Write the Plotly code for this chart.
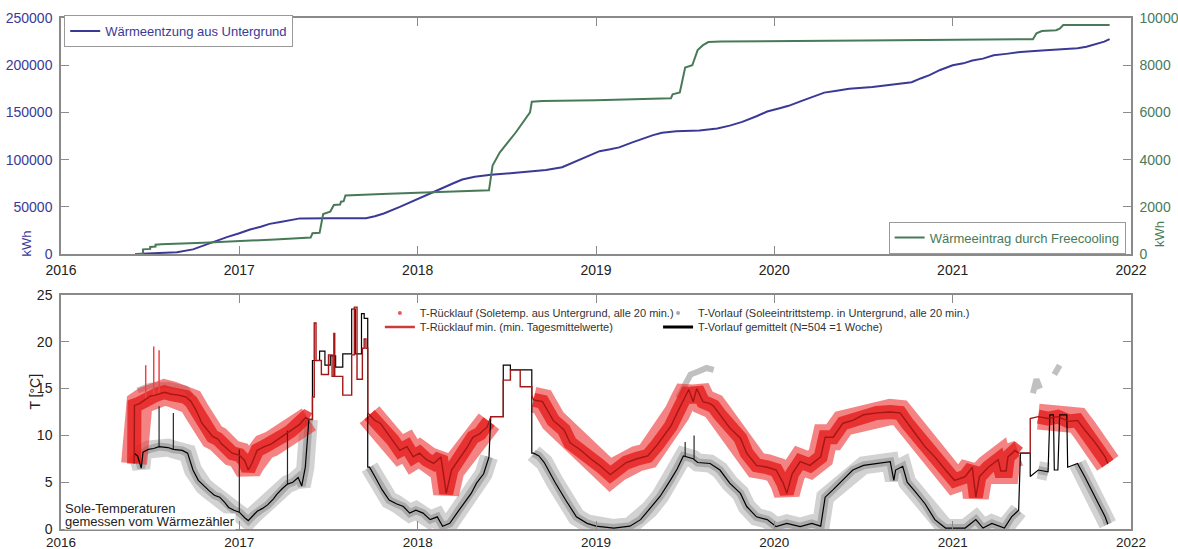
import plotly.graph_objects as go

# ---------------- top panel data (cumulative energy) ----------------
blue_years = [2016.42, 2016.55, 2016.65, 2016.74, 2016.85, 2016.93, 2017.00, 2017.06, 2017.12, 2017.17,
              2017.23, 2017.28, 2017.34, 2017.50, 2017.71, 2017.76, 2017.81, 2017.90, 2017.95, 2018.00,
              2018.07, 2018.14, 2018.20, 2018.25, 2018.32, 2018.41, 2018.55, 2018.65, 2018.72, 2018.81,
              2018.91, 2018.97, 2019.02, 2019.08, 2019.13, 2019.20, 2019.26, 2019.32, 2019.37, 2019.45,
              2019.58, 2019.68, 2019.75, 2019.82, 2019.90, 2019.96, 2020.03, 2020.08, 2020.15, 2020.22,
              2020.28, 2020.35, 2020.42, 2020.55, 2020.72, 2020.77, 2020.82, 2020.87, 2020.93, 2021.00,
              2021.06, 2021.11, 2021.17, 2021.23, 2021.30, 2021.38, 2021.50, 2021.62, 2021.70, 2021.75,
              2021.80, 2021.85, 2021.88]
blue_kwh = [0, 700, 2000, 5000, 13000, 18000, 22000, 26000, 29000, 32000,
            34000, 36000, 37800, 38000, 38000, 40000, 43000, 50000, 54000, 58000,
            64000, 70000, 75000, 79000, 82000, 84000, 86000, 87500, 89000, 92000,
            100000, 105000, 109000, 111000, 113000, 118000, 122000, 126000, 128500, 130000,
            131000, 133000, 136000, 140000, 146000, 151000, 154500, 157000, 162000, 167000,
            171000, 173000, 175000, 177000, 180500, 182000, 186000, 189500, 195000, 200000,
            202000, 205000, 207000, 210500, 212000, 214000, 215500, 216700, 218000, 219500,
            222000, 225000, 227700]

green_years = [2016.415, 2016.46, 2016.46, 2016.50, 2016.50, 2016.53, 2016.53, 2016.56, 2016.80, 2017.00,
               2017.20, 2017.40, 2017.41, 2017.45, 2017.47, 2017.51, 2017.53, 2017.565, 2017.57, 2017.585,
               2017.595, 2017.80, 2018.10, 2018.40, 2018.42, 2018.46, 2018.55, 2018.63, 2018.64, 2018.70,
               2019.00, 2019.42, 2019.43, 2019.47, 2019.50, 2019.54, 2019.57, 2019.60, 2019.63, 2019.70,
               2020.50, 2021.00, 2021.45, 2021.47, 2021.50, 2021.58, 2021.60, 2021.62, 2021.88]
green_kwh = [0, 0, 200, 220, 300, 320, 400, 420, 480, 540,
             620, 700, 880, 900, 1700, 1800, 2080, 2100, 2220, 2240,
             2480, 2550, 2620, 2700, 3750, 4300, 5150, 6000, 6450, 6480,
             6520, 6600, 6770, 6850, 7900, 8000, 8640, 8850, 8980, 9000,
             9050, 9080, 9100, 9350, 9450, 9480, 9550, 9700, 9700]

# ---------------- bottom panel data (brine temperatures) ----------------
rl_years = [2016.410, 2016.412, 2016.44, 2016.47, 2016.50, 2016.53, 2016.56, 2016.58, 2016.62, 2016.66,
            2016.70, 2016.73, 2016.76, 2016.79, 2016.82, 2016.85, 2016.88, 2016.90, 2016.93, 2016.96,
            2017.00, 2017.03, 2017.05, 2017.07, 2017.10, 2017.14, 2017.18, 2017.22, 2017.26, 2017.29,
            2017.31, 2017.34, 2017.37, 2017.39,
            2017.41, 2017.41, 2017.42, 2017.42, 2017.43, 2017.43, 2017.46, 2017.46, 2017.50, 2017.50,
            2017.52, 2017.52, 2017.53, 2017.53, 2017.535, 2017.535, 2017.58, 2017.58, 2017.63, 2017.63,
            2017.645, 2017.645, 2017.66, 2017.66, 2017.69, 2017.69, 2017.70, 2017.70, 2017.71, 2017.71,
            2017.72, 2017.72,
            2017.73, 2017.76, 2017.79, 2017.83, 2017.86, 2017.90, 2017.94, 2017.975, 2018.01, 2018.05,
            2018.09, 2018.13, 2018.15, 2018.16, 2018.19, 2018.24, 2018.28, 2018.31, 2018.35, 2018.39,
            2018.40,
            2018.41, 2018.48, 2018.48, 2018.52, 2018.52, 2018.575, 2018.575, 2018.64, 2018.64,
            2018.65, 2018.70, 2018.76, 2018.82, 2018.855, 2018.91, 2018.97, 2019.02, 2019.08, 2019.12,
            2019.17, 2019.23, 2019.29, 2019.34, 2019.38, 2019.42, 2019.455, 2019.49, 2019.52, 2019.545,
            2019.565, 2019.60, 2019.64, 2019.66, 2019.695, 2019.75, 2019.81, 2019.845, 2019.90, 2019.96,
            2020.01, 2020.05, 2020.07, 2020.10, 2020.145, 2020.20, 2020.26, 2020.285, 2020.33, 2020.385,
            2020.44, 2020.50, 2020.575, 2020.65, 2020.705, 2020.745, 2020.79, 2020.845, 2020.90, 2020.96,
            2021.01, 2021.07, 2021.11, 2021.13, 2021.15, 2021.20, 2021.255, 2021.27, 2021.30, 2021.31,
            2021.35, 2021.37,
            2021.38, 2021.435, 2021.435,
            2021.48, 2021.535, 2021.59, 2021.65, 2021.70, 2021.74, 2021.80, 2021.855, 2021.87]
rl_vals = [7.0, 13.2, 13.4, 13.8, 14.2, 14.3, 14.5, 14.6, 14.4, 14.3,
           14.1, 13.6, 12.6, 11.3, 10.6, 9.9, 9.6, 9.1, 8.6, 8.1,
           7.9, 7.3, 6.3, 7.0, 8.4, 8.8, 9.1, 9.6, 10.1, 10.5,
           10.8, 11.2, 11.9, 11.7,
           11.7, 14.1, 14.1, 22.0, 22.0, 18.0, 18.0, 16.5, 16.5, 18.6,
           18.6, 16.3, 16.3, 20.9, 20.9, 16.3, 16.3, 14.3, 14.3, 18.6,
           18.6, 23.7, 23.7, 16.0, 16.0, 19.3, 19.3, 20.3, 20.3, 19.3,
           19.3, 12.4,
           12.2, 11.6, 11.3, 10.2, 9.5, 8.4, 8.8, 7.7, 8.1, 7.4,
           7.0, 7.7, 5.2, 3.8, 6.3, 7.7, 8.8, 9.8, 10.2, 10.9,
           11.5,
           12.0, 12.0, 15.9, 15.9, 17.0, 17.0, 15.2, 15.2, 14.3,
           13.8, 13.6, 11.6, 10.6, 9.2, 8.5, 7.5, 6.8, 5.8, 6.4,
           7.1, 7.5, 7.8, 8.9, 9.9, 11.0, 12.4, 13.8, 14.9, 13.6,
           15.0, 13.6, 13.4, 13.1, 12.2, 10.8, 9.7, 8.1, 6.8, 6.6,
           6.3, 4.9, 3.8, 5.9, 7.2, 6.8, 7.7, 9.8, 9.8, 11.3,
           11.6, 12.2, 12.4, 12.5, 12.4, 11.3, 10.2, 8.8, 7.7, 6.3,
           5.2, 5.6, 6.6, 3.4, 5.6, 6.6, 7.4, 6.2, 6.2, 7.7,
           8.4, 8.1,
           8.1, 8.1, 11.8,
           12.0, 11.8, 12.0, 11.5, 11.6, 10.6, 9.2, 7.7, 7.0]

vl_years = [2016.41, 2016.43, 2016.45, 2016.46, 2016.49, 2016.52, 2016.55, 2016.60, 2016.63, 2016.68,
            2016.71, 2016.74, 2016.77, 2016.80, 2016.83, 2016.86, 2016.89, 2016.92, 2016.94, 2016.97,
            2017.00, 2017.03, 2017.05, 2017.08, 2017.10, 2017.13, 2017.16, 2017.19, 2017.21, 2017.24,
            2017.27, 2017.30, 2017.33, 2017.35, 2017.37, 2017.39,
            2017.41, 2017.41, 2017.45, 2017.45, 2017.48, 2017.48, 2017.51, 2017.51, 2017.54, 2017.54,
            2017.58, 2017.58, 2017.63, 2017.63, 2017.65, 2017.65, 2017.685, 2017.685, 2017.70, 2017.70,
            2017.72, 2017.72,
            2017.73, 2017.76, 2017.80, 2017.84, 2017.88, 2017.92, 2017.955, 2017.99, 2018.03, 2018.07,
            2018.11, 2018.14, 2018.18, 2018.22, 2018.26, 2018.30, 2018.33, 2018.37, 2018.40,
            2018.41, 2018.48, 2018.48, 2018.52, 2018.52, 2018.64, 2018.64,
            2018.65, 2018.68, 2018.71, 2018.77, 2018.83, 2018.89, 2018.95, 2019.00, 2019.10, 2019.19,
            2019.25, 2019.30, 2019.36, 2019.42, 2019.455, 2019.49, 2019.545, 2019.57, 2019.64, 2019.695,
            2019.75, 2019.81, 2019.845, 2019.90, 2019.96, 2020.01, 2020.07, 2020.145, 2020.21, 2020.26,
            2020.285, 2020.33, 2020.385, 2020.44, 2020.50, 2020.575, 2020.65, 2020.67, 2020.68, 2020.72,
            2020.745, 2020.79, 2020.845, 2020.90, 2020.96, 2021.07, 2021.13, 2021.17, 2021.22, 2021.29,
            2021.33, 2021.37,
            2021.38, 2021.435, 2021.435,
            2021.48, 2021.535, 2021.545, 2021.565, 2021.57, 2021.59, 2021.60, 2021.64, 2021.645, 2021.70,
            2021.74, 2021.80, 2021.855, 2021.87]
vl_vals = [8.1, 7.8, 6.5, 8.2, 8.5, 8.6, 8.8, 8.7, 8.5, 8.4,
           8.1, 6.3, 5.2, 4.6, 4.1, 3.6, 3.4, 2.8, 2.3, 2.0,
           1.8, 1.2, 0.9, 1.5, 1.9, 2.2, 2.6, 3.2, 3.7, 4.3,
           4.8, 5.0, 5.5, 4.6, 6.6, 11.7,
           11.7, 18.0, 18.0, 19.0, 19.0, 17.5, 17.5, 18.5, 18.5, 17.3,
           17.3, 18.7, 18.7, 23.5, 23.5, 18.7, 18.7, 23.0, 23.0, 22.5,
           22.5, 6.6,
           6.6, 5.6, 4.2, 3.1, 2.7, 2.4, 1.7, 2.0, 1.7, 1.0,
           1.3, 0.3, 0.6, 1.7, 2.7, 3.8, 4.9, 5.9, 7.7,
           12.0, 12.0, 17.5, 17.5, 17.0, 17.0, 8.1,
           8.1, 7.8, 7.1, 5.0, 3.1, 1.3, 0.6, 0.3, 0.1, 0.3,
           1.0, 2.1, 3.5, 5.3, 6.4, 7.8, 7.5, 7.1, 7.0, 6.3,
           4.9, 3.8, 2.4, 1.3, 1.0, 0.25, 0.6, 0.25, 0.6, 0.3,
           3.4, 4.2, 5.2, 6.3, 6.8, 7.0, 7.2, 5.2, 6.3, 6.7,
           5.0, 4.0, 2.7, 1.0, 0.1, 0.1, 1.0, 0.1, 0.6, 0.1,
           1.3, 2.0,
           8.1, 8.1, 5.6,
           6.3, 6.1, 12.2, 12.2, 6.3, 6.3, 12.2, 12.2, 6.6, 7.0,
           5.6, 3.4, 1.3, 0.5]

# upper clusters of 20-min Vorlauf points lying above the Rücklauf cloud (None separates clusters)
vl_hi_years = [2016.43, 2016.50, 2016.60, 2016.70, 2016.73, None,
               2019.46, 2019.50, 2019.53, 2019.57, 2019.62, 2019.66, None,
               2021.45, 2021.47, 2021.49, None,
               2021.57, 2021.60]
vl_hi_vals = [14.8, 15.3, 15.4, 15.0, 14.2, None,
              14.0, 15.5, 16.5, 16.8, 17.2, 17.0, None,
              14.5, 16.0, 15.0, None,
              16.5, 17.5]

rl_spike_years = [2016.475, 2016.52, 2016.55]
rl_spike_lo = [13.8, 14.2, 14.5]
rl_spike_hi = [17.5, 19.5, 19.1]
vl_spike_years = [2016.55, 2016.63, 2017.00, 2017.27, 2019.50, 2019.55]
vl_spike_lo = [8.8, 8.5, 1.8, 4.8, 7.8, 7.5]
vl_spike_hi = [13.1, 12.4, 8.5, 10.5, 9.3, 10.0]

# periods with sparse 20-min data (no dense point cloud)
rl_cloud_gaps = [(2017.40, 2017.725), (2018.405, 2018.645), (2021.375, 2021.44)]
vl_cloud_gaps = [(2017.40, 2017.725), (2018.405, 2018.645), (2021.375, 2021.44), (2021.54, 2021.65)]

year_ticks = [2016, 2017, 2018, 2019, 2020, 2021, 2022]


def masked(xs, ys, gaps):
    return [None if any(a < x < b for a, b in gaps) else y for x, y in zip(xs, ys)]


def segs(xs, lo, hi):
    sx, sy = [], []
    for x, a, b in zip(xs, lo, hi):
        sx += [x, x, None]
        sy += [a, b, None]
    return sx, sy


BLUE = "rgb(58,58,150)"
GREEN = "rgb(72,122,88)"
FRAME = "#8a8a8a"
FONT = "Liberation Sans, Arial, sans-serif"

fig = go.Figure()

# top panel
fig.add_trace(go.Scatter(x=blue_years, y=blue_kwh, mode="lines", line=dict(color=BLUE, width=2),
                         name="Wärmeentzung aus Untergrund", xaxis="x", yaxis="y", legend="legend"))
fig.add_trace(go.Scatter(x=green_years, y=green_kwh, mode="lines", line=dict(color=GREEN, width=2),
                         name="Wärmeeintrag durch Freecooling", xaxis="x", yaxis="y2", legend="legend2"))

# bottom panel: point clouds (drawn as broad translucent strokes)
vl_cloud = masked(vl_years, vl_vals, vl_cloud_gaps)
rl_cloud = masked(rl_years, rl_vals, rl_cloud_gaps)
fig.add_trace(go.Scatter(x=vl_years, y=vl_cloud, mode="lines",
                         line=dict(color="rgba(155,155,155,0.45)", width=18), connectgaps=False,
                         showlegend=False, hoverinfo="skip", xaxis="x2", yaxis="y3"))
fig.add_trace(go.Scatter(x=vl_years, y=vl_cloud, mode="lines",
                         line=dict(color="rgba(125,125,125,0.45)", width=8), connectgaps=False,
                         showlegend=False, hoverinfo="skip", xaxis="x2", yaxis="y3"))
fig.add_trace(go.Scatter(x=vl_hi_years, y=vl_hi_vals, mode="lines",
                         line=dict(color="rgba(150,150,150,0.6)", width=6), connectgaps=False,
                         showlegend=False, hoverinfo="skip", xaxis="x2", yaxis="y3"))
fig.add_trace(go.Scatter(x=rl_years, y=rl_cloud, mode="lines",
                         line=dict(color="rgba(236,50,50,0.6)", width=26), connectgaps=False,
                         showlegend=False, hoverinfo="skip", xaxis="x2", yaxis="y3"))
fig.add_trace(go.Scatter(x=rl_years, y=rl_cloud, mode="lines",
                         line=dict(color="rgba(228,22,22,0.75)", width=14), connectgaps=False,
                         showlegend=False, hoverinfo="skip", xaxis="x2", yaxis="y3"))
sx, sy = segs(rl_spike_years, rl_spike_lo, rl_spike_hi)
fig.add_trace(go.Scatter(x=sx, y=sy, mode="lines", line=dict(color="rgb(235,70,70)", width=1.5),
                         showlegend=False, hoverinfo="skip", xaxis="x2", yaxis="y3"))
sx, sy = segs(vl_spike_years, vl_spike_lo, vl_spike_hi)
fig.add_trace(go.Scatter(x=sx, y=sy, mode="lines", line=dict(color="rgb(40,40,40)", width=1.2),
                         showlegend=False, hoverinfo="skip", xaxis="x2", yaxis="y3"))
# lines
fig.add_trace(go.Scatter(x=vl_years, y=vl_vals, mode="lines", line=dict(color="black", width=1.2),
                         showlegend=False, xaxis="x2", yaxis="y3"))
fig.add_trace(go.Scatter(x=rl_years, y=rl_vals, mode="lines", line=dict(color="rgb(165,22,22)", width=1.4),
                         showlegend=False, xaxis="x2", yaxis="y3"))

# legend entries for bottom panel (one legend per entry to place them as a 2x2 block)
fig.add_trace(go.Scatter(x=[None], y=[None], mode="markers", marker=dict(color="rgb(235,90,90)", size=4),
                         name="T-Rücklauf (Soletemp. aus Untergrund, alle 20 min.)", xaxis="x2", yaxis="y3",
                         legend="legend3"))
fig.add_trace(go.Scatter(x=[None], y=[None], mode="markers", marker=dict(color="rgb(170,170,170)", size=4),
                         name="T-Vorlauf (Soleeintrittstemp. in Untergrund, alle 20 min.)", xaxis="x2", yaxis="y3",
                         legend="legend4"))
fig.add_trace(go.Scatter(x=[None], y=[None], mode="lines", line=dict(color="rgb(205,60,60)", width=2.5),
                         name="T-Rücklauf min. (min. Tagesmittelwerte)", xaxis="x2", yaxis="y3",
                         legend="legend5"))
fig.add_trace(go.Scatter(x=[None], y=[None], mode="lines", line=dict(color="black", width=3),
                         name="T-Vorlauf gemittelt (N=504 =1 Woche)", xaxis="x2", yaxis="y3",
                         legend="legend6"))

axis_common = dict(showline=True, linecolor=FRAME, linewidth=1.5, ticks="inside", ticklen=8,
                   tickcolor=FRAME, showgrid=False, zeroline=False, automargin=False)
xcommon = dict(axis_common, range=[2016, 2022], tickvals=year_ticks, ticktext=[str(t) for t in year_ticks],
               mirror="ticks", tickfont=dict(size=14, color="#222"))

small_leg = dict(xanchor="left", yanchor="middle", bgcolor="rgba(0,0,0,0)",
                 font=dict(size=11, color="#333", family=FONT))
row1, row2 = 0.4227, 0.3953
colL, colR = 0.298, 0.558

fig.update_layout(
    width=1178, height=549,
    margin=dict(l=61, r=47, t=18, b=20, autoexpand=False),
    paper_bgcolor="white", plot_bgcolor="white",
    font=dict(family=FONT, size=13, color="#222"),
    xaxis=dict(xcommon, domain=[0, 1], anchor="y", ticklabelstandoff=2),
    yaxis=dict(axis_common, domain=[0.538, 1.0], range=[0, 250000],
               tickvals=[0, 50000, 100000, 150000, 200000, 250000],
               tickformat="d", tickfont=dict(size=14, color=BLUE), ticklabelstandoff=4),
    yaxis2=dict(axis_common, overlaying="y", side="right", anchor="x", range=[0, 10000],
                tickvals=[0, 2000, 4000, 6000, 8000, 10000], tickformat="d",
                tickfont=dict(size=14, color=GREEN), ticklabelstandoff=4),
    xaxis2=dict(xcommon, domain=[0, 1], anchor="y3", ticklabelstandoff=0,
                tickfont=dict(size=13.5, color="#222")),
    yaxis3=dict(axis_common, domain=[0, 0.458], range=[0, 25], tickvals=[0, 5, 10, 15, 20, 25],
                mirror="ticks", tickfont=dict(size=14, color="#222"), ticklabelstandoff=4),
    legend=dict(x=0.003, y=1.006, xanchor="left", yanchor="top", bgcolor="white",
                bordercolor="#9a9a9a", borderwidth=1, font=dict(size=13, color=BLUE, family=FONT)),
    legend2=dict(x=0.995, y=0.539, xanchor="right", yanchor="bottom", bgcolor="white",
                 bordercolor="#9a9a9a", borderwidth=1, font=dict(size=13, color=GREEN, family=FONT)),
    legend3=dict(small_leg, x=colL, y=row1),
    legend4=dict(small_leg, x=colR, y=row1),
    legend5=dict(small_leg, x=colL, y=row2),
    legend6=dict(small_leg, x=colR, y=row2),
    annotations=[
        dict(text="kWh", xref="paper", yref="paper", x=-0.041, y=0.558, textangle=-90, showarrow=False,
             font=dict(size=13, color=BLUE)),
        dict(text="kWh", xref="paper", yref="paper", x=1.035, y=0.577, textangle=-90, showarrow=False,
             font=dict(size=13, color=GREEN)),
        dict(text="T [°C]", xref="paper", yref="paper", x=-0.034, y=0.229, textangle=-90, showarrow=False,
             font=dict(size=14, color="#222")),
        dict(text="Sole-Temperaturen", xref="paper", yref="paper",
             x=0.003, y=0.041, xanchor="left", yanchor="middle", showarrow=False,
             bgcolor="white", borderpad=0, font=dict(size=13, color="#222")),
        dict(text="gemessen vom Wärmezähler", xref="paper", yref="paper",
             x=0.003, y=0.0137, xanchor="left", yanchor="middle", showarrow=False,
             bgcolor="white", borderpad=0, font=dict(size=13, color="#222")),
    ],
)

fig.write_html("out.html")
